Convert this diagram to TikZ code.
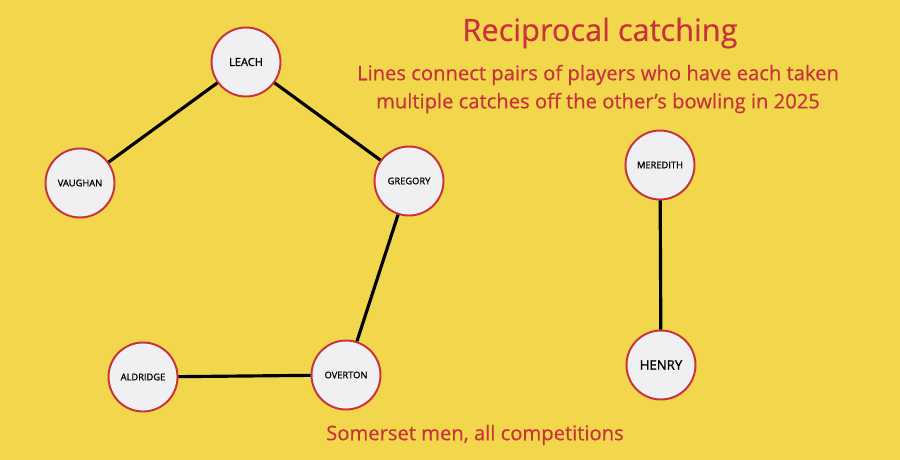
\documentclass[tikz,border=0pt]{standalone}
\usepackage{fontspec}
\setmainfont{Open Sans}[FakeBold=0.4]
\newfontfamily\medf{Open Sans}[FakeBold=1.2]
\definecolor{bg}{HTML}{F2D64B}
\definecolor{rd}{HTML}{C8323A}
\definecolor{nf}{HTML}{F0F0F2}
\begin{document}
\begin{tikzpicture}[x=0.02cm,y=-0.02cm,
  pl/.style={circle,draw=rd,fill=nf,line width=1.1pt,minimum size=1.38cm,inner sep=0pt,font=\medf\fontsize{6.3}{7}\selectfont},
  sm/.style={pl,font=\medf\fontsize{5.3}{6}\selectfont},
  ed/.style={line width=1.8pt,black},
  tx/.style={text=rd,align=center}]
\fill[bg] (0,0) rectangle (900,460);
\useasboundingbox (0,0) rectangle (900,460);
\node[pl] (leach) at (246,62) {LEACH};
\node[sm] (vaughan) at (80,183) {VAUGHAN};
\node[sm] (gregory) at (409,181) {GREGORY};
\node[sm] (meredith) at (660,165) {MEREDITH};
\node[sm] (aldridge) at (143,377) {ALDRIDGE};
\node[sm] (overton) at (346,375) {OVERTON};
\node[pl,font=\medf\fontsize{7.5}{8}\selectfont] (henry) at (661,365) {HENRY};
\draw[ed] (leach) -- (vaughan);
\draw[ed] (leach) -- (gregory);
\draw[ed] (gregory) -- (overton);
\draw[ed] (overton) -- (aldridge);
\draw[ed] (meredith) -- (henry);
\node[tx,font=\fontsize{17.5}{20}\selectfont] (title) at (600,33) {Reciprocal catching};
\node[tx,font=\fontsize{11.5}{16}\selectfont] (sub) at (598,89) {Lines connect pairs of players who have each taken\\multiple catches off the other’s bowling in 2025};
\node[tx,font=\fontsize{11.5}{13}\selectfont] (foot) at (475,435) {Somerset men, all competitions};
\end{tikzpicture}
\end{document}
